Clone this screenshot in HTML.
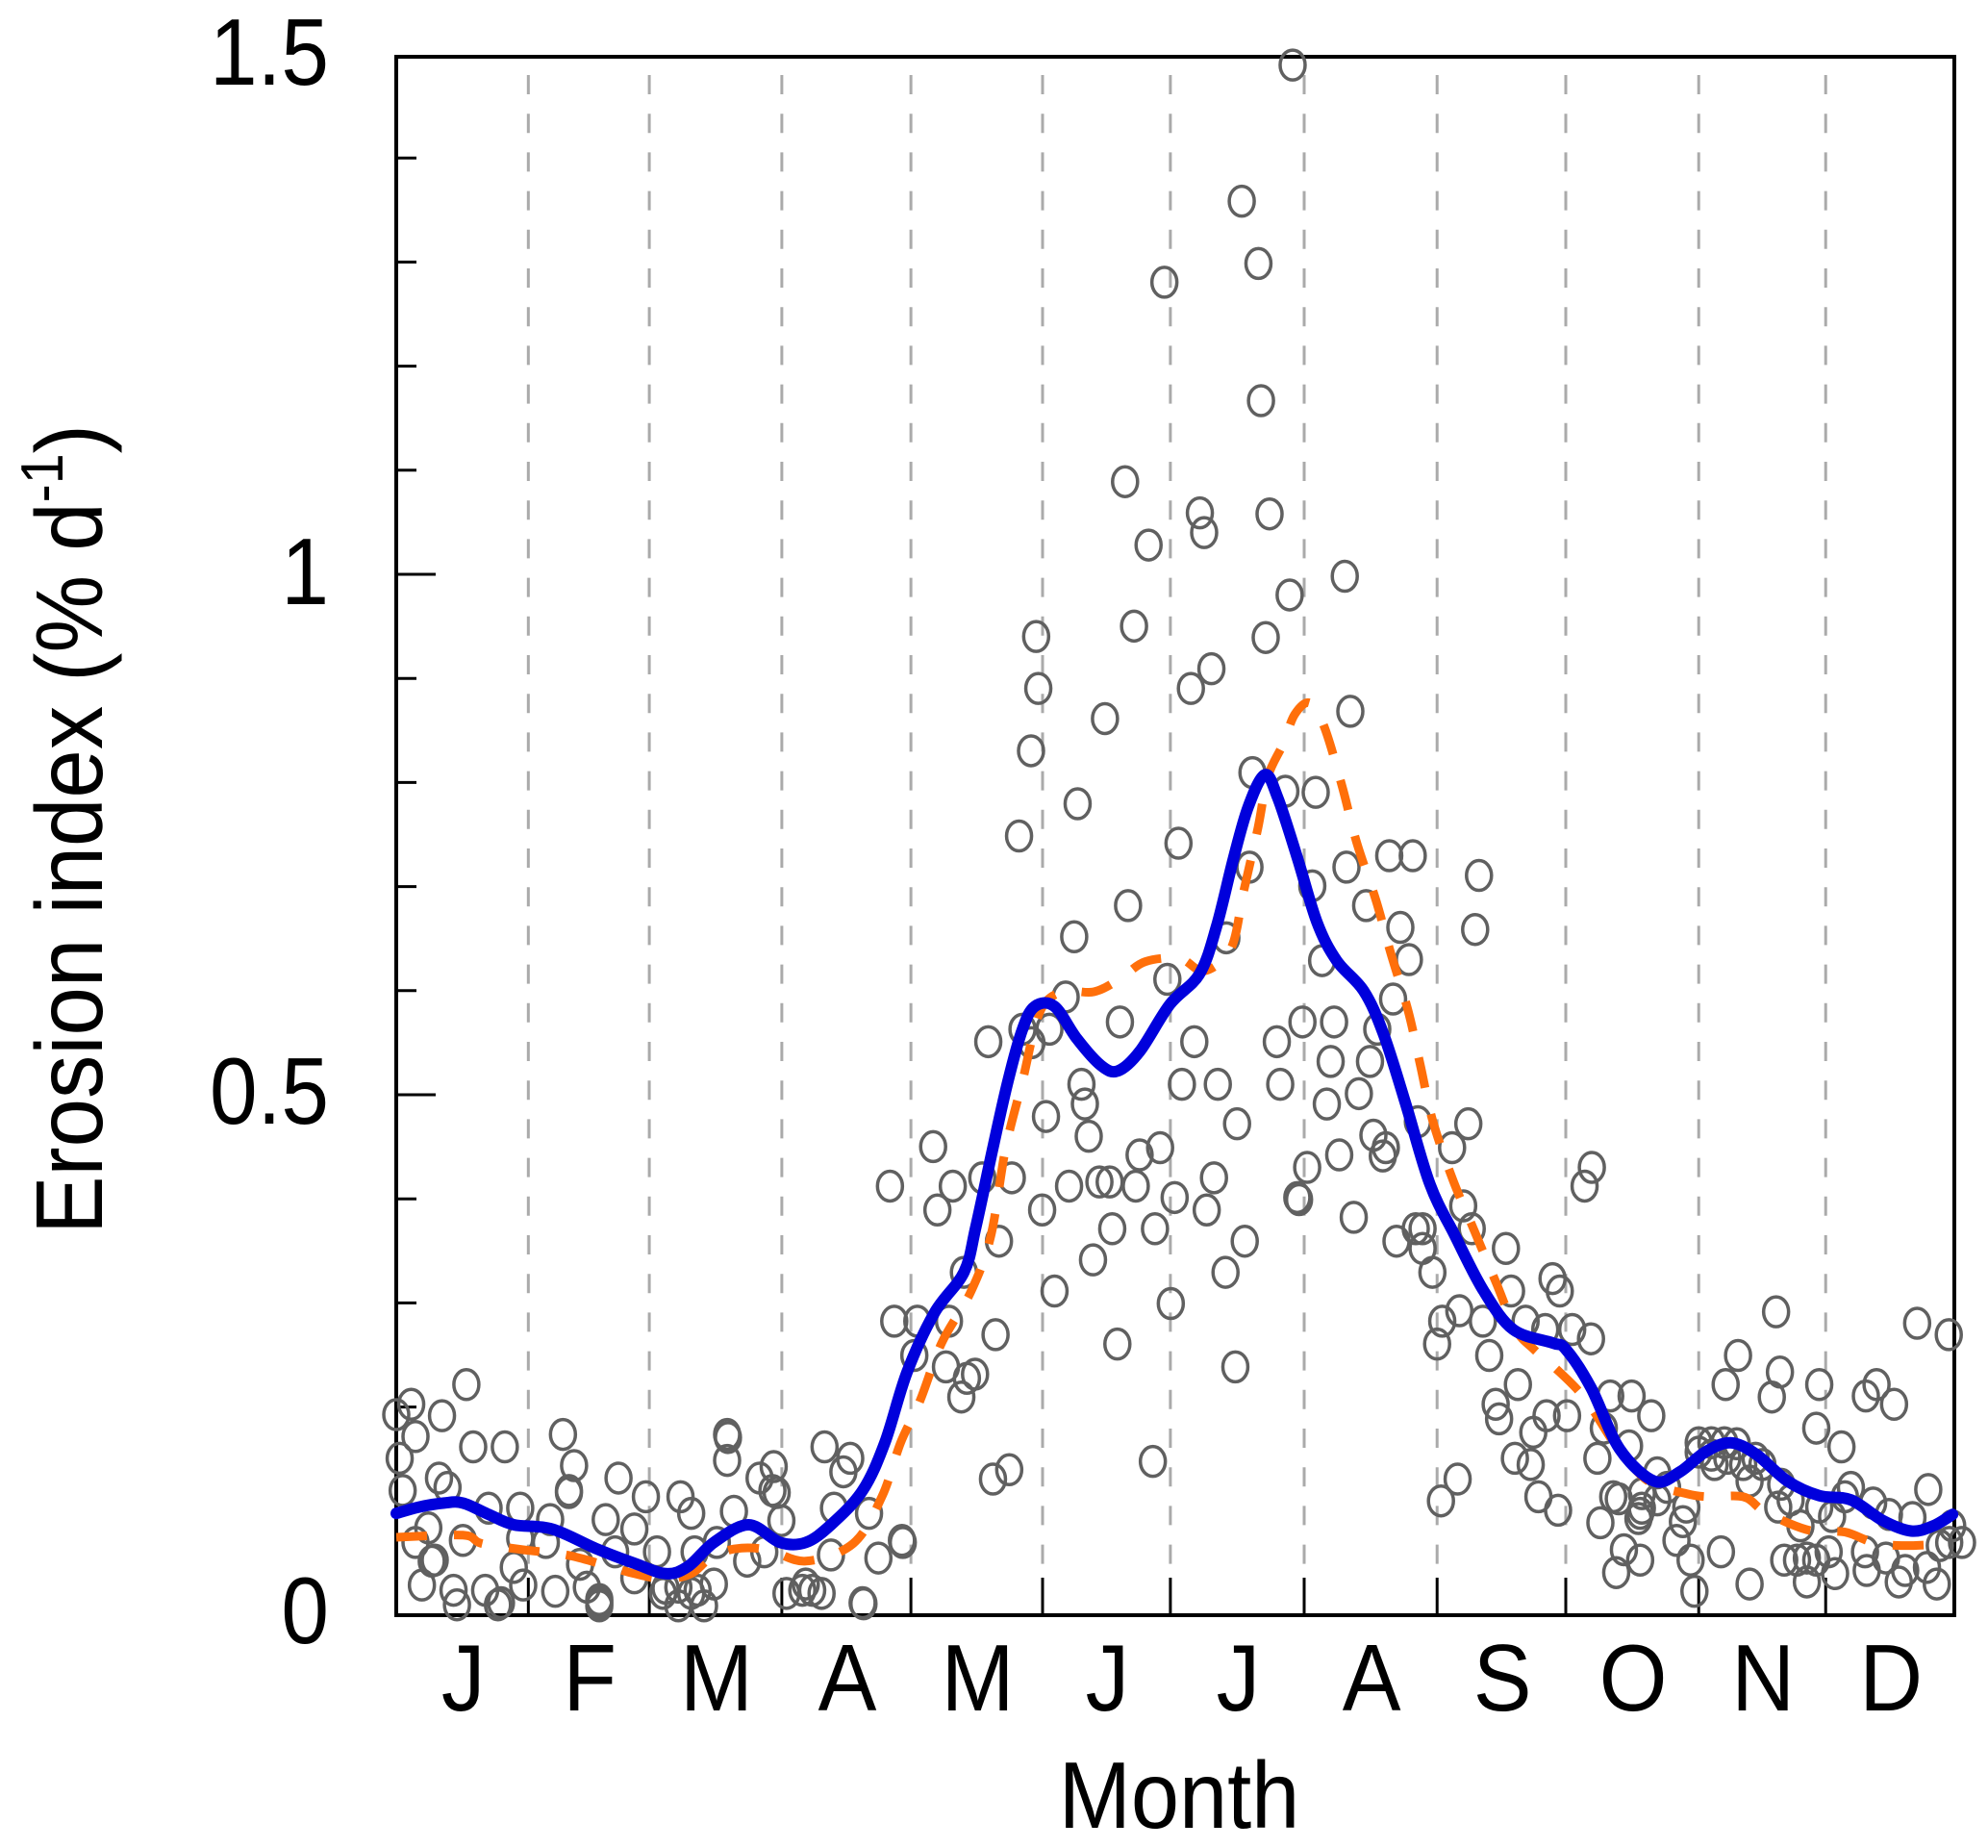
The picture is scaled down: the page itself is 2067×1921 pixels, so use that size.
<!DOCTYPE html>
<html lang="en">
<head>
<meta charset="utf-8">
<title>Erosion index by month</title>
<style>
html,body{margin:0;padding:0;background:#fff;width:2067px;height:1921px;overflow:hidden}
svg{display:block}
text{font-family:"Liberation Sans",sans-serif;fill:#000}
</style>
</head>
<body>
<svg id="chart" xmlns="http://www.w3.org/2000/svg" width="2067" height="1921" viewBox="0 0 2067 1921"></svg>
<script>
const monthLabels = ["J","F","M","A","M","J","J","A","S","O","N","D"];
const monthStartDays = [0,30.9,59.2,90.2,120.4,151.2,181.1,212.4,243.5,273.6,304.7,334.4,364.5];
const yMajorTicks = [0,0.5,1,1.5];
const yMinorTicks = [0.1,0.2,0.3,0.4,0.6,0.7,0.8,0.9,1.1,1.2,1.3,1.4];
const yTickLabels = ["0","0.5","1","1.5"];

const scatterPoints = [
[209.7,1.492],[197.8,1.361],[201.7,1.301],[179.7,1.283],[202.3,1.169],[170.5,1.091],[188,1.061],[189,1.042],[204.3,1.06],[176,1.03],
[221.9,1],[209,.982],[172.6,.952],[149.7,.942],[203.4,.941],[190.7,.911],[185.9,.892],[150.2,.892],[165.8,.863],[223.2,.87],
[148.5,.832],[200.3,.811],[208,.793],[215.1,.792],[159.4,.781],[145.7,.75],[183,.743],[232.3,.731],[237.8,.731],[253.3,.712],
[222.3,.72],[199.6,.72],[214.3,.702],[171.2,.683],[226.9,.683],[252.4,.66],[158.6,.653],[234.9,.662],[194.2,.652],[236.9,.631],
[216.6,.63],[180.4,.612],[233.2,.593],[156.6,.595],[212,.571],[219.4,.571],[169.3,.571],[146.5,.564],[138.5,.552],[152.8,.564],
[148.6,.551],[206,.552],[186.7,.552],[229.5,.564],[218.6,.533],[227.8,.533],[192.2,.511],[183.8,.511],[206.8,.511],[160.3,.511],
[225.2,.502],[161.1,.492],[217.7,.492],[152,.48],[196.7,.473],[250.8,.473],[162,.461],[228.6,.462],[231.5,.45],[230.8,.442],
[220.6,.443],[125.6,.451],[247,.45],[173.9,.443],[178.7,.45],[239,.475],[213.1,.431],[279.7,.431],[278,.413],[115.5,.413],
[137.1,.421],[130.2,.413],[144,.421],[157.4,.413],[164.5,.417],[166.9,.417],[173,.413],[191.3,.421],[182.1,.402],[210.8,.402],
[211.2,.4],[126.6,.39],[151.1,.39],[189.6,.39],[249.6,.394],[224,.383],[177.5,.372],[167.5,.372],[251.6,.372],[240.1,.372],
[238.5,.372],[141,.36],[198.5,.36],[234,.36],[240.1,.353],[259.6,.353],[163,.342],[194,.33],[242.4,.33],[132.8,.33],
[270.5,.324],[272.2,.312],[260.8,.312],[154,.312],[181.2,.3],[248.7,.293],[322.8,.292],[244.7,.283],[254.2,.283],[116.5,.283],
[121.9,.283],[129.3,.283],[264.2,.283],[355.8,.281],[363.2,.27],[140.2,.27],[268.8,.275],[275.1,.275],[279.5,.266],[168.7,.261],
[243.5,.261],[255.7,.25],[313.9,.25],[121.2,.25],[196.3,.239],[323.7,.234],[128.6,.239],[135.4,.232],[133.5,.228],[132.2,.21],
[311,.222],[332.9,.222],[346.3,.222],[262.4,.222],[343.8,.211],[321.8,.21],[289,.211],[284,.211],[350.4,.203],[257.2,.203],
[258,.189],[293.6,.192],[269.1,.192],[273.9,.192],[332.2,.18],[282.5,.18],[266,.176],[177,.148],[143.4,.14],[139.6,.131],
[338.1,.162],[261.7,.151],[265.4,.145],[267.2,.114],[271.8,.101],[281,.151],[288.4,.163],[248.3,.131],[244.4,.11],[118.5,.07],
[109.3,.011],
[16.4,.222],[3.5,.203],[0,.193],[10.7,.192],[4.5,.172],[18,.162],[25.4,.162],[39,.174],[.8,.151],[41.6,.144],
[77.4,.174],[77.6,.171],[77.4,.149],[100.2,.162],[106.2,.151],[88.3,.143],[85,.132],[88,.12],[89,.118],[104.6,.138],
[52,.132],[40.4,.12],[40.4,.118],[10,.132],[12,.123],[1.5,.12],[58.4,.114],[66.5,.114],[69,.098],[79,.1],
[102.4,.103],[21.6,.103],[29,.103],[36,.092],[49,.092],[55.7,.083],[90.1,.091],[110.6,.098],[7.5,.084],[4.5,.07],
[15.6,.072],[29,.074],[35,.07],[118.3,.072],[112.8,.055],[69.8,.061],[75,.07],[82.1,.052],[86.1,.061],[101.7,.058],
[61,.061],[9,.053],[8.3,.052],[27.5,.046],[43,.049],[51.2,.061],[55.7,.036],[6,.029],[13.4,.024],[20.8,.024],
[37.2,.023],[29.7,.029],[74.3,.03],[91.3,.021],[99.5,.021],[95.8,.03],[97.3,.024],[95,.024],[63,.026],[66,.027],
[70.5,.024],[14.2,.01],[23.8,.01],[24.5,.012],[47.5,.012],[47.5,.009],[47.5,.015],[66,.009],[72,.009],[109.1,.012],
[44.6,.027],[62.4,.021],[69,.021],
[304.7,.166],[307.7,.166],[310.7,.166],[313.6,.165],[304.7,.157],[308.4,.145],[311.4,.151],[315.1,.145],[319.6,.145],[318,.151],
[307.7,.154],[295,.137],[284.7,.114],[291.4,.103],[295,.111],[301.8,.104],[301,.09],[291,.098],[290.6,.093],[281.7,.089],
[299.5,.072],[287.2,.063],[291,.053],[285.4,.041],[302.8,.053],[303.7,.023],[309.9,.061],[316.6,.03],[324.7,.053],[330,.055],
[327.7,.053],[332.2,.053],[330,.032],[336.6,.04],[335.1,.061],[343.6,.061],[351.5,.032],[353,.043],[360.4,.03],[358.1,.046],
[348.5,.055],[358.4,.121],[340.3,.123],[338.9,.114],[345.5,.108],[349.2,.097],[354.7,.094],[332.9,.104],[335.9,.095],[326.2,.111],
[323.3,.104],[328.5,.086],[364,.086],[366.3,.07],[363.3,.07],[361.1,.067],[344,.043],[324,.126],[291.4,.117],[297.3,.123],
[316.6,.129],[286,.112]
];

const blueDays = [0,5.2,11.2,15.6,21.6,27.5,36.4,46.8,55.7,63.1,68.3,74.3,82.4,89.8,95.8,101.7,109.1,114.3,119.5,125.9,132.8,135.6,139.7,143.1,146.5,149.4,154,159.2,164.9,168.9,174,181,187.9,191.9,195.9,199.3,203.2,206.2,210.8,215.4,220,226.3,230.9,236.1,241.8,247.6,254.4,261.3,270.5,273.6,279.5,286.2,294.3,300.3,306.2,312.1,318.1,325.5,332.9,340.3,347.8,354.4,359.6,364.1];
const blueValues = [.098,.104,.108,.108,.097,.087,.083,.064,.05,.04,.047,.07,.087,.07,.07,.087,.12,.166,.234,.291,.33,.374,.452,.514,.564,.586,.586,.555,.529,.524,.543,.588,.617,.663,.729,.778,.809,.787,.729,.667,.63,.601,.56,.493,.415,.366,.312,.275,.262,.256,.219,.16,.129,.138,.157,.166,.155,.129,.115,.111,.091,.081,.086,.097];

const orangeDays = [0,15.6,20,29.7,40.9,55.7,63,69,73.5,79.4,86.9,95.8,106.9,113.6,118,122.5,127.6,134.5,139.1,142.5,146.5,150.5,155.7,163.2,169.5,175.2,183.3,189,195.3,198.2,201.6,203.9,207.4,210.2,213.7,217.1,221.2,224.6,229.2,232.6,236.7,239.5,242.4,247,252.2,257.3,261.9,266.1,270.6,278,285.4,292.9,301.8,307,315.1,319.6,325.5,331.4,338.9,345.5,352.2,359.6];
const orangeValues = [.075,.077,.069,.063,.057,.04,.035,.04,.055,.064,.063,.052,.069,.114,.166,.206,.262,.312,.365,.448,.514,.58,.6,.6,.613,.629,.632,.62,.642,.696,.758,.807,.838,.867,.878,.855,.799,.745,.688,.638,.582,.531,.477,.421,.37,.32,.275,.256,.24,.209,.163,.129,.117,.114,.114,.101,.089,.081,.08,.07,.067,.068];

const NS = "http://www.w3.org/2000/svg";
const svg = document.getElementById("chart");
const plot = {left:412, right:2032, top:59, bottom:1679};
const xMax = 364.5, yMax = 1.5;
function xScale(d){ return plot.left + d / xMax * (plot.right - plot.left); }
function yScale(v){ return plot.bottom - v / yMax * (plot.bottom - plot.top); }
function yTickScale(v){ return plot.bottom - v * 1082; }
function make(tag, attrs, parent){
  const el = document.createElementNS(NS, tag);
  for (const k in attrs) el.setAttribute(k, attrs[k]);
  (parent || svg).appendChild(el);
  return el;
}

const bg = make("rect",{x:0,y:0,width:2067,height:1921,fill:"#fff"});



const gridGroup = make("g",{});


monthStartDays.slice(1,-1).forEach(function(d){
  const x = xScale(d);
  const line = make("line",{x1:x,x2:x,y1:78,y2:1640,stroke:"#aaa","stroke-width":3,"stroke-dasharray":"20 20.2"},gridGroup);
  
  
});

const tickGroup = make("g",{});


monthStartDays.slice(1,-1).forEach(function(d){
  const x = xScale(d);
  const tick = make("line",{x1:x,x2:x,y1:1640,y2:plot.bottom,stroke:"#000","stroke-width":3},tickGroup);
  
  
});
yMinorTicks.forEach(function(v){
  const y = yTickScale(v);
  const tick = make("line",{x1:plot.left,x2:plot.left+21,y1:y,y2:y,stroke:"#000","stroke-width":3},tickGroup);
  
  
});
yMajorTicks.slice(1,-1).forEach(function(v){
  const y = yTickScale(v);
  const tick = make("line",{x1:plot.left,x2:plot.left+41,y1:y,y2:y,stroke:"#000","stroke-width":3},tickGroup);
  
  
});

const frame = make("rect",{x:plot.left,y:plot.top,width:plot.right-plot.left,height:plot.bottom-plot.top,fill:"none",stroke:"#000","stroke-width":4});



const pointGroup = make("g",{});


scatterPoints.forEach(function(p){
  const c = make("ellipse",{cx:xScale(p[0]),cy:yScale(p[1]),rx:13,ry:15.5,fill:"none",stroke:"#606060","stroke-width":3.5},pointGroup);
  
  
});

function smoothPath(days, values){
  const pts = days.map(function(d,i){ return [xScale(d), yScale(values[i])]; });
  let s = "M" + pts[0][0].toFixed(1) + " " + pts[0][1].toFixed(1);
  for (let i = 0; i < pts.length - 1; i++) {
    const p0 = pts[Math.max(i-1,0)], p1 = pts[i], p2 = pts[i+1], p3 = pts[Math.min(i+2,pts.length-1)];
    const c1x = p1[0] + (p2[0]-p0[0])/6, c1y = p1[1] + (p2[1]-p0[1])/6;
    const c2x = p2[0] - (p3[0]-p1[0])/6, c2y = p2[1] - (p3[1]-p1[1])/6;
    s += " C" + c1x.toFixed(1) + " " + c1y.toFixed(1) + " " + c2x.toFixed(1) + " " + c2y.toFixed(1) + " " + p2[0].toFixed(1) + " " + p2[1].toFixed(1);
  }
  return s;
}
const orangeLine = make("path",{d:smoothPath(orangeDays,orangeValues),fill:"none",stroke:"#ff6f0a","stroke-width":9,"stroke-dasharray":"32 28","stroke-linejoin":"round"});


const blueLine = make("path",{d:smoothPath(blueDays,blueValues),fill:"none",stroke:"#0000dc","stroke-width":12,"stroke-linejoin":"round","stroke-linecap":"round"});



yMajorTicks.forEach(function(v,i){
  const t = make("text",{transform:"translate(342,"+(yScale(v)+29)+") scale(0.91,1)","text-anchor":"end","font-size":98});
  t.textContent = yTickLabels[i];
  
  
});
monthLabels.forEach(function(m,i){
  const cx = xScale((monthStartDays[i]+monthStartDays[i+1])/2) + 1;
  const t = make("text",{transform:"translate("+cx+",1778) scale(0.93,1)","text-anchor":"middle","font-size":98});
  t.textContent = m;
  
  
});

const xTitle = make("text",{transform:"translate(1226,1900) scale(0.92,1)","text-anchor":"middle","font-size":98});
xTitle.textContent = "Month";



const yTitle = make("text",{transform:"translate(106,1283) rotate(-90) scale(0.925,1)","font-size":98});


yTitle.appendChild(document.createTextNode("Erosion index (% d"));
const sup = make("tspan",{dy:-41,"font-size":62},yTitle);
sup.textContent = "-1";
const closeParen = make("tspan",{dy:41},yTitle);
closeParen.textContent = ")";
</script>
</body>
</html>
